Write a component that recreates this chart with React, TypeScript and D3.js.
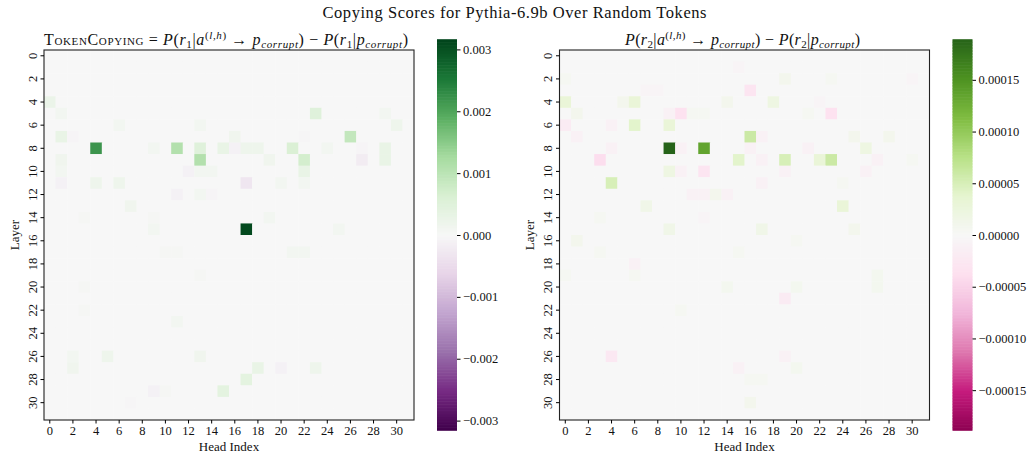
import { useEffect, useRef } from 'react';
import * as d3 from 'd3';

const heads = d3.range(32);
const layers = d3.range(32);
const axisTicks = d3.range(0, 32, 2);

// [layer, head, score]; cells not listed are ~0
const tokenCopying: [number, number, number][] = [
  [4, 0, 0.00025],
  [5, 1, 0.0001], [5, 23, 0.0005], [5, 29, 0.0001],
  [6, 6, 0.0001], [6, 13, 0.0001], [6, 30, 0.0002],
  [7, 1, 0.0003], [7, 2, -0.00005], [7, 16, 0.00015], [7, 22, -0.00003], [7, 26, 0.0009],
  [8, 4, 0.0022], [8, 9, 0.0001], [8, 11, 0.0011], [8, 13, 0.0005], [8, 15, 0.0003],
  [8, 16, -0.0001], [8, 17, 0.0002], [8, 18, 0.0002], [8, 21, 0.0006], [8, 24, 0.0001],
  [8, 27, -0.00005], [8, 29, 0.0003],
  [9, 1, 0.00015], [9, 13, 0.0011], [9, 19, 0.00015], [9, 22, 0.0007], [9, 27, -0.0002], [9, 29, 0.0003],
  [10, 1, 0.0001], [10, 12, -0.0001], [10, 13, 0.0001], [10, 14, 0.0001], [10, 22, 0.0003],
  [11, 1, -0.0001], [11, 4, 0.0002], [11, 6, 0.0002], [11, 17, -0.0003], [11, 20, 0.0001], [11, 22, 0.0001],
  [12, 11, -0.0001], [12, 13, 0.0001], [12, 14, -0.00005],
  [13, 7, 0.00015],
  [14, 3, 0.00005], [14, 9, 0.00005], [14, 19, 0.0001],
  [15, 9, 0.0001], [15, 17, 0.0031], [15, 25, 0.0001],
  [17, 10, 0.00005], [17, 11, 0.00005], [17, 21, 0.0001], [17, 22, 0.0001],
  [19, 13, 0.00005], [20, 3, 0.00005], [22, 3, 0.00005], [23, 11, 0.0001],
  [26, 2, 0.0001], [26, 5, 0.0002], [26, 13, 0.00015],
  [27, 2, 0.00015], [27, 18, 0.0003], [27, 20, -0.0001], [27, 23, 0.0002],
  [28, 17, 0.0004],
  [29, 9, -0.0001], [29, 10, 0.00005], [29, 15, 0.0004],
  [30, 7, -0.00003],
];

const r2Copying: [number, number, number][] = [
  [1, 15, -0.000005],
  [2, 0, 0.000005], [2, 19, 0.00001], [2, 23, 0.000005], [2, 30, -0.000005],
  [3, 7, -0.000005], [3, 8, -0.000005], [3, 16, -0.00003],
  [4, 0, 0.00003], [4, 5, 0.00001], [4, 6, 0.00003], [4, 14, 0.00001], [4, 18, 0.00002], [4, 22, -0.000005],
  [5, 1, 0.00001], [5, 9, -0.00001], [5, 10, -0.000035], [5, 11, 0.000005], [5, 12, 0.000005],
  [5, 21, 0.000005], [5, 23, -0.000035],
  [6, 0, -0.00002], [6, 4, -0.00001], [6, 6, 0.00004], [6, 9, 0.00003],
  [7, 1, -0.00001], [7, 16, 0.00006], [7, 17, -0.00001], [7, 25, 0.00001], [7, 28, 0.00001],
  [8, 4, -0.00001], [8, 9, 0.00019], [8, 10, -0.00001], [8, 12, 0.000135], [8, 16, -0.00001],
  [8, 21, -0.00001], [8, 26, 0.00002],
  [9, 3, -0.00004], [9, 15, 0.00004], [9, 17, -0.00001], [9, 19, 0.00005], [9, 22, 0.00003],
  [9, 23, 0.00006], [9, 27, -0.00001], [9, 30, 0.000005],
  [10, 9, 0.00002], [10, 10, -0.00001], [10, 12, -0.00003], [10, 19, -0.00001], [10, 26, -0.00001],
  [11, 4, 0.00005], [11, 17, -0.00001], [11, 24, 0.000005],
  [12, 11, -0.00001], [12, 12, -0.00001], [12, 13, 0.00001], [12, 14, -0.00001],
  [13, 7, 0.000015], [13, 24, 0.00003],
  [14, 3, 0.000005], [14, 12, -0.000005],
  [15, 9, 0.000015], [15, 17, 0.000015], [15, 25, 0.00001],
  [16, 1, 0.00001], [16, 20, 0.000005],
  [17, 3, 0.000005], [17, 15, 0.000005],
  [18, 6, -0.00001],
  [19, 0, 0.000005], [19, 6, 0.000005], [19, 27, 0.000008],
  [20, 14, 0.000008], [20, 20, 0.000008], [20, 27, 0.000008],
  [21, 19, -0.00002],
  [22, 10, 0.000005],
  [26, 4, -0.000025], [26, 19, -0.00001],
  [27, 15, -0.00001], [27, 20, 0.000008],
  [28, 16, 0.000005], [28, 17, 0.000005],
  [30, 16, 0.00001],
];

const leftTicks = [0.003, 0.002, 0.001, 0, -0.001, -0.002, -0.003];
const rightTicks = [0.00015, 0.0001, 0.00005, 0, -0.00005, -0.0001, -0.00015];
const leftMax = 0.00316;
const rightMax = 0.000189;

const FONT = "'Liberation Serif', 'Times New Roman', serif";

// matplotlib-style colormaps: straight lines between the 11 brewer colours
const prgn = d3.piecewise(d3.interpolateRgb, d3.schemePRGn[11] as string[]);
const piyg = d3.piecewise(d3.interpolateRgb, d3.schemePiYG[11] as string[]);

type Panel = {
  x0: number;
  cells: [number, number, number][];
  vmax: number;
  interp: (t: number) => string;
  cbX: number;
  ticks: number[];
  fmt: string;
};

const drawPanel = (g: d3.Selection<SVGGElement, unknown, null, undefined>, p: Panel) => {
  const size = 370;
  const top = 50;
  const x = d3.scaleBand<number>().domain(heads).range([p.x0, p.x0 + size]);
  const y = d3.scaleBand<number>().domain(layers).range([top, top + size]);
  const color = d3.scaleSequential(p.interp).domain([-p.vmax, p.vmax]);

  const lookup = new Map(p.cells.map(([l, h, v]) => [`${l}-${h}`, v]));
  const grid = layers.flatMap(l => heads.map(h => ({ l, h, v: lookup.get(`${l}-${h}`) ?? 0 })));

  g.append('g')
    .selectAll('rect')
    .data(grid)
    .enter()
    .append('rect')
    .attr('x', d => x(d.h)!)
    .attr('y', d => y(d.l)!)
    .attr('width', x.bandwidth() + 0.4)
    .attr('height', y.bandwidth() + 0.4)
    .attr('fill', d => color(d.v));

  g.append('rect')
    .attr('x', p.x0)
    .attr('y', top)
    .attr('width', size)
    .attr('height', size)
    .attr('fill', 'none')
    .attr('stroke', '#222')
    .attr('stroke-width', 1.1);

  const xAxis = g
    .append('g')
    .attr('transform', `translate(0, ${top + size})`)
    .call(d3.axisBottom(x).tickValues(axisTicks).tickSize(3.5).tickPadding(2.5));
  xAxis.select('.domain').remove();
  xAxis.selectAll('text').attr('font-size', 12.5).attr('font-family', FONT).attr('fill', '#111');

  const yAxis = g
    .append('g')
    .attr('transform', `translate(${p.x0}, 0)`)
    .call(d3.axisLeft(y).tickValues(axisTicks).tickSize(3.5));
  yAxis.select('.domain').remove();
  yAxis
    .selectAll('text')
    .attr('x', 0)
    .attr('dy', 0)
    .attr('text-anchor', 'middle')
    .attr('transform', 'translate(-7.5, 0) rotate(-90)')
    .attr('font-size', 12.5)
    .attr('font-family', FONT)
    .attr('fill', '#111');

  const cbTop = 39.5;
  const cbBottom = 430.5;
  const cbW = 20;
  const cbY = d3.scaleLinear().domain([-p.vmax, p.vmax]).range([cbBottom, cbTop]);
  const steps = d3.range(256).map(i => -p.vmax + ((i + 0.5) / 256) * 2 * p.vmax);
  const stepH = (cbBottom - cbTop) / 256;
  g.append('g')
    .selectAll('rect')
    .data(steps)
    .enter()
    .append('rect')
    .attr('x', p.cbX)
    .attr('y', d => cbY(d) - stepH / 2 - 0.3)
    .attr('width', cbW)
    .attr('height', stepH + 0.6)
    .attr('fill', d => color(d));

  const cbAxis = g
    .append('g')
    .attr('transform', `translate(${p.cbX + cbW}, 0)`)
    .call(d3.axisRight(cbY).tickValues(p.ticks).tickFormat(d3.format(p.fmt)).tickSize(3.5).tickPadding(2.5));
  cbAxis.select('.domain').remove();
  cbAxis.selectAll('text').attr('font-size', 12.5).attr('font-family', FONT).attr('fill', '#111');
};

const App = () => {
  const ref = useRef<SVGGElement>(null!);

  useEffect(() => {
    const g = d3.select(ref.current);
    drawPanel(g, {
      x0: 44,
      cells: tokenCopying,
      vmax: leftMax,
      interp: prgn,
      cbX: 437,
      ticks: leftTicks,
      fmt: '.3f',
    });
    drawPanel(g, {
      x0: 559.5,
      cells: r2Copying,
      vmax: rightMax,
      interp: piyg,
      cbX: 952.5,
      ticks: rightTicks,
      fmt: '.5f',
    });
    return () => {
      ref.current.innerHTML = '';
    };
  }, []);

  const sub = { fontSize: 11 };
  return (
    <svg
      width={1029}
      height={454}
      style={{ position: 'absolute', left: 0, top: 0, display: 'block', background: '#fff' }}
      fontFamily={FONT}
      fill="#111"
    >
      <text x={514.5} y={18} textAnchor="middle" fontSize={16.5} textLength={384} lengthAdjust="spacing">
        Copying Scores for Pythia-6.9b Over Random Tokens
      </text>

      <text x={226} y={45} textAnchor="middle" fontSize={16} textLength={364} lengthAdjust="spacing">
        <tspan fontVariant="small-caps">TokenCopying</tspan>
        <tspan> = </tspan>
        <tspan fontStyle="italic">P</tspan>
        <tspan>(</tspan>
        <tspan fontStyle="italic">r</tspan>
        <tspan style={sub} dy={3}>1</tspan>
        <tspan dy={-3}>|</tspan>
        <tspan fontStyle="italic">a</tspan>
        <tspan style={sub} dy={-6}>(</tspan>
        <tspan style={sub} fontStyle="italic">l,h</tspan>
        <tspan style={sub}>)</tspan>
        <tspan dy={6}> → </tspan>
        <tspan fontStyle="italic">p</tspan>
        <tspan style={sub} fontStyle="italic" dy={3}>corrupt</tspan>
        <tspan dy={-3}>) − </tspan>
        <tspan fontStyle="italic">P</tspan>
        <tspan>(</tspan>
        <tspan fontStyle="italic">r</tspan>
        <tspan style={sub} dy={3}>1</tspan>
        <tspan dy={-3}>|</tspan>
        <tspan fontStyle="italic">p</tspan>
        <tspan style={sub} fontStyle="italic" dy={3}>corrupt</tspan>
        <tspan dy={-3}>)</tspan>
      </text>

      <text x={742.5} y={45} textAnchor="middle" fontSize={16} textLength={235} lengthAdjust="spacing">
        <tspan fontStyle="italic">P</tspan>
        <tspan>(</tspan>
        <tspan fontStyle="italic">r</tspan>
        <tspan style={sub} dy={3}>2</tspan>
        <tspan dy={-3}>|</tspan>
        <tspan fontStyle="italic">a</tspan>
        <tspan style={sub} dy={-6}>(</tspan>
        <tspan style={sub} fontStyle="italic">l,h</tspan>
        <tspan style={sub}>)</tspan>
        <tspan dy={6}> → </tspan>
        <tspan fontStyle="italic">p</tspan>
        <tspan style={sub} fontStyle="italic" dy={3}>corrupt</tspan>
        <tspan dy={-3}>) − </tspan>
        <tspan fontStyle="italic">P</tspan>
        <tspan>(</tspan>
        <tspan fontStyle="italic">r</tspan>
        <tspan style={sub} dy={3}>2</tspan>
        <tspan dy={-3}>|</tspan>
        <tspan fontStyle="italic">p</tspan>
        <tspan style={sub} fontStyle="italic" dy={3}>corrupt</tspan>
        <tspan dy={-3}>)</tspan>
      </text>

      <text x={229} y={451} textAnchor="middle" fontSize={13}>Head Index</text>
      <text x={744.5} y={451} textAnchor="middle" fontSize={13}>Head Index</text>
      <text transform="translate(19, 235) rotate(-90)" textAnchor="middle" fontSize={13}>Layer</text>
      <text transform="translate(534, 235) rotate(-90)" textAnchor="middle" fontSize={13}>Layer</text>

      <g ref={ref} />
    </svg>
  );
};

export default App;
